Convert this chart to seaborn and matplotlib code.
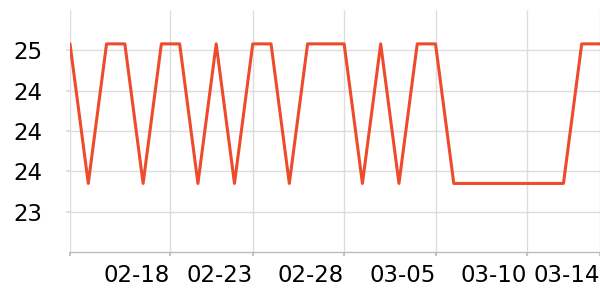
import matplotlib
matplotlib.use("Agg")
import matplotlib.pyplot as plt
from matplotlib.ticker import FuncFormatter
import seaborn as sns
import pandas as pd

# ---- data ----
dates = pd.date_range("2023-02-13", "2023-03-14", freq="D")
HI, LO = 25.08, 23.35
values = [HI, LO, HI, HI, LO, HI, HI, LO, HI, LO,
          HI, HI, LO, HI, HI, HI, LO, HI, LO, HI,
          HI, LO, LO, LO, LO, LO, LO, LO, HI, HI]
tick_dates = ["2023-02-13 00:00", "2023-02-18 10:48", "2023-02-23 00:00", "2023-02-28 00:00",
              "2023-03-05 00:00", "2023-03-10 00:00", "2023-03-14 00:00"]
tick_labels = ["", "02-18", "02-23", "02-28", "03-05", "03-10", "03-14"]
y_ticks = [23.0, 23.5, 24.0, 24.5, 25.0]

df = pd.DataFrame({"date": dates, "value": values})

sns.set_theme(style="whitegrid")
plt.rcParams["font.family"] = ["DejaVu Sans"]

fig = plt.figure(figsize=(6, 3), dpi=100)
ax = fig.add_axes([70 / 600, 48 / 300, 530 / 600, 242 / 300])

sns.lineplot(data=df, x="date", y="value", ax=ax, color="#ee4a2c", linewidth=2.2)

ax.set_xlim(dates[0], dates[-1])
ax.set_ylim(22.5, 25.5)
ax.set_yticks(y_ticks)
ax.yaxis.set_major_formatter(FuncFormatter(lambda v, p: "{:.0f}".format(v)))

ax.set_xticks(pd.to_datetime(tick_dates, format="%Y-%m-%d %H:%M"))
ax.set_xticklabels(tick_labels, ha="right")

ax.set_xlabel("")
ax.set_ylabel("")
ax.grid(True, color="#dddddd", linewidth=1)
for s in ["top", "right", "left"]:
    ax.spines[s].set_visible(False)
ax.spines["bottom"].set_color("#bbbbbb")
ax.spines["bottom"].set_linewidth(1)

ax.tick_params(axis="y", length=3, pad=17, color="#dddddd", labelsize=16.5, labelcolor="black", left=True)
ax.tick_params(axis="x", length=3, pad=5.5, color="#bbbbbb", labelsize=16.5, labelcolor="black", bottom=True)

fig.savefig("out.png", dpi=100)
